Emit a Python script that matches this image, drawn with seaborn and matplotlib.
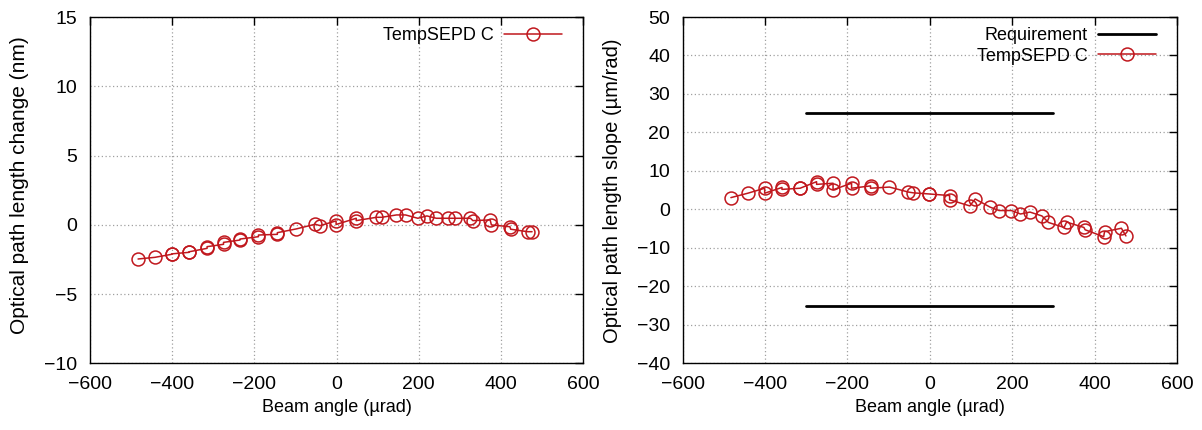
import matplotlib
matplotlib.use("Agg")
import matplotlib.pyplot as plt
import seaborn as sns
import pandas as pd

# Beam angles (µrad)
beam_angle = [-483, -442, -401, -401, -359, -359, -315, -315, -275, -275,
              -235, -235, -190, -190, -144, -144, -98, -52, -40, -1,
              -1, 48, 48, 97, 110, 146, 168, 198, 220, 243,
              272, 288, 326, 332, 374, 377, 422, 424, 465, 476]

# Optical path length change (nm)
opl_change = [-2.47, -2.35, -2.13, -2.10, -1.99, -1.95, -1.70, -1.58, -1.41, -1.27,
              -1.10, -1.03, -0.86, -0.74, -0.69, -0.57, -0.30, 0.04, -0.06, 0.28,
              0.02, 0.47, 0.30, 0.54, 0.54, 0.71, 0.71, 0.47, 0.64, 0.47,
              0.47, 0.47, 0.47, 0.30, 0.35, -0.01, -0.14, -0.32, -0.50, -0.50]

# Optical path length slope (µm/rad)
opl_slope = [3.06, 4.2, 5.5, 4.2, 5.7, 5.2, 5.5, 5.5, 7.2, 6.5,
             6.8, 5.1, 6.8, 5.5, 6.1, 5.5, 5.8, 4.5, 4.3, 4.0,
             4.0, 3.6, 2.5, 0.9, 2.7, 0.6, -0.3, -0.3, -1.2, -0.7,
             -1.7, -3.4, -4.7, -3.3, -4.7, -5.3, -7.1, -5.8, -4.9, -6.9]

# Requirement band
req_x = [-300, 300]
req_upper = [25, 25]
req_lower = [-25, -25]

series_label = "TempSEPD C"
req_label = "Requirement"

RED = "#c0171d"

sns.set_theme(style="white")
plt.rcParams['font.family'] = ['Liberation Sans', 'DejaVu Sans']
plt.rcParams['axes.unicode_minus'] = True
plt.rcParams['text.color'] = 'black'

fig = plt.figure(figsize=(12.02, 4.30), dpi=100)
ax1 = fig.add_axes([90/1202, (430-363.3)/430, 493/1202, 346.3/430])
ax2 = fig.add_axes([682.7/1202, (430-363.3)/430, 494.3/1202, 346.3/430])

df = pd.DataFrame({"x": beam_angle, "chg": opl_change, "slp": opl_slope})

def style_axes(ax):
    for s in ax.spines.values():
        s.set_color("black")
        s.set_linewidth(1.0)
    ax.tick_params(direction="in", length=6, width=1, top=True, right=True,
                   labelsize=14, colors="black")
    ax.tick_params(axis="x", pad=9.5)
    ax.tick_params(axis="y", pad=9)
    ax.grid(True, color="#a0a0a0", linestyle=(0, (1, 2)), linewidth=0.9)
    ax.set_axisbelow(True)

MS = 9.3

# Left panel
sns.lineplot(data=df, x="x", y="chg", ax=ax1, estimator=None, sort=False,
             color=RED, lw=1.1, marker="o", markersize=MS,
             markerfacecolor="none", markeredgecolor=RED, markeredgewidth=1.1,
             label=series_label)
ax1.set_xlim(-600, 600)
ax1.set_ylim(-10, 15)
ax1.set_xticks(range(-600, 601, 200))
ax1.set_yticks(range(-10, 16, 5))
ax1.set_xlabel("Beam angle (µrad)", fontsize=13, color="black", labelpad=4)
ax1.set_ylabel("Optical path length change (nm)", fontsize=15, color="black")
ax1.yaxis.set_label_coords(-0.124, 0.515)
style_axes(ax1)
ax1.legend(loc="upper right", frameon=False, markerfirst=False, fontsize=13,
           handlelength=3.2, borderaxespad=0.15, handletextpad=0.6,
           bbox_to_anchor=(0.978, 1.0))

# Right panel
sns.lineplot(x=req_x, y=req_upper, ax=ax2, color="black", lw=2, label=req_label)
sns.lineplot(x=req_x, y=req_lower, ax=ax2, color="black", lw=2)
sns.lineplot(data=df, x="x", y="slp", ax=ax2, estimator=None, sort=False,
             color=RED, lw=1.1, marker="o", markersize=MS,
             markerfacecolor="none", markeredgecolor=RED, markeredgewidth=1.1,
             label=series_label)
ax2.set_xlim(-600, 600)
ax2.set_ylim(-40, 50)
ax2.set_xticks(range(-600, 601, 200))
ax2.set_yticks(range(-40, 51, 10))
ax2.set_xlabel("Beam angle (µrad)", fontsize=13, color="black", labelpad=4)
ax2.set_ylabel("Optical path length slope (µm/rad)", fontsize=14.5, color="black")
ax2.yaxis.set_label_coords(-0.123, 0.497)
style_axes(ax2)
ax2.legend(loc="upper right", frameon=False, markerfirst=False, fontsize=13,
           handlelength=3.2, borderaxespad=0.15, handletextpad=0.6, labelspacing=0.2,
           bbox_to_anchor=(0.978, 1.0))

fig.savefig("out.png", dpi=100, facecolor="white")
